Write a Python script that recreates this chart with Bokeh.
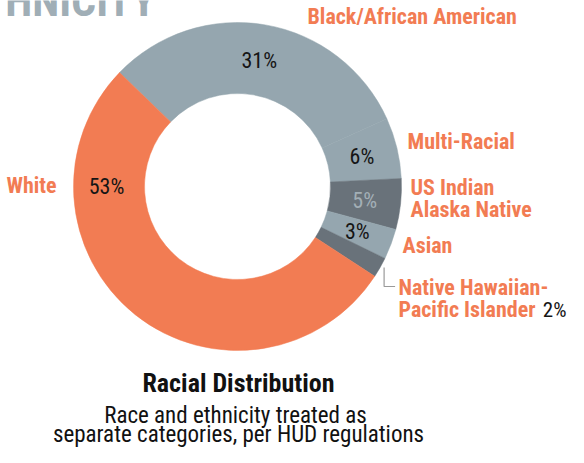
import math
from bokeh.plotting import figure
from bokeh.models import ColumnDataSource, Range1d
from bokeh.core.properties import value
from bokeh.embed import file_html
from bokeh.resources import INLINE

# ---------------- data ----------------
categories = ["Black/African American", "Multi-Racial", "US Indian\nAlaska Native",
              "Asian", "Native Hawaiian-\nPacific Islander", "White"]
percents = [31, 6, 5, 3, 2, 53]
slice_colors = ["#95A6AF", "#95A6AF", "#69727A", "#95A6AF", "#69727A", "#F27C53"]
pct_text_colors = ["#151515", "#151515", "#A3AFB6", "#151515", "#151515", "#151515"]
title_text = "ETHNICITY"
chart_title = "Racial Distribution"
subtitle_lines = ["Race and ethnicity treated as", "separate categories, per HUD regulations"]

# ---------------- layout ----------------
FW, FH = 568, 447
H = 463
FONT = "'Liberation Sans Narrow', 'Arial Narrow', 'Roboto Condensed', Roboto, sans-serif"
ORANGE = "#F27C53"

def Y(sy):  # picture y -> data y
    return H - sy

CX, CY = 237, Y(186)
R_OUT, R_IN = 164, 93
START_DEG = 136.0  # boundary between White and Black (slices run clockwise)

p = figure(width=FW, height=FH, x_range=Range1d(0, FW), y_range=Range1d(H - FH, H),
           output_backend="svg", toolbar_location=None, min_border=0)
p.axis.visible = False
p.grid.visible = False
p.outline_line_color = None
p.background_fill_color = "white"
p.border_fill_color = "white"

# wedges
starts, ends, mids = [], [], []
a = START_DEG
for v in percents:
    span = v / sum(percents) * 360.0
    starts.append(math.radians(a - span))
    ends.append(math.radians(a))
    mids.append(a - span / 2)
    a -= span

src = ColumnDataSource(dict(start=starts, end=ends, color=slice_colors,
                            cat=categories, pct=percents))
p.annular_wedge(x=CX, y=CY, inner_radius=R_IN, outer_radius=R_OUT,
                start_angle="start", end_angle="end", fill_color="color",
                line_color="color", line_width=0.5, source=src)

# percent labels inside ring
px, py, pt, pc = [], [], [], []
for i, v in enumerate(percents):
    cat = categories[i]
    if cat.startswith("Native Hawaiian"):
        continue
    ang = 180.0 if cat == "White" else mids[i]
    rr = 131 if cat == "White" else 128
    px.append(CX + rr * math.cos(math.radians(ang)))
    py.append(CY + rr * math.sin(math.radians(ang)))
    pt.append(f"{v}%")
    pc.append(pct_text_colors[i])
p.text(x=px, y=py, text=pt, text_color=pc, text_font=value(FONT),
       text_font_size="22px", text_align="center", text_baseline="middle")

# category labels outside (picture positions: left x, middle y of first line)
label_pos = {
    "Black/African American": (307, 16),
    "Multi-Racial": (407, 141),
    "US Indian\nAlaska Native": (410, 187),
    "Asian": (402, 245),
    "Native Hawaiian-\nPacific Islander": (398, 287),
    "White": (6, 185),
}
lx, ly, lt = [], [], []
for cat in categories:
    x0, m0 = label_pos[cat]
    for k, line in enumerate(cat.split("\n")):
        lx.append(x0)
        ly.append(Y(m0 + k * 22))
        lt.append(line)
p.text(x=lx, y=ly, text=lt, text_color=ORANGE, text_font=value(FONT),
       text_font_style="bold", text_font_size="22px", text_align="left",
       text_baseline="middle")

# Native Hawaiian small slice: leader line + outside percent
nh = [i for i, c in enumerate(categories) if c.startswith("Native Hawaiian")][0]
ma = math.radians(mids[nh])
sx0 = CX + R_OUT * math.cos(ma) + 4
sy0 = CY + R_OUT * math.sin(ma)
p.line(x=[sx0, sx0, sx0 + 11], y=[sy0, Y(286), Y(286)], line_color="#9A9A9A", line_width=1.2)
p.text(x=[566], y=[Y(309)], text=[f"{percents[nh]}%"], text_color="#151515",
       text_font=value(FONT), text_font_size="21px", text_align="right",
       text_baseline="middle")

# big section title (cut off at top, as in the source page)
p.text(x=[155], y=[Y(0)], text=[title_text], text_color="#A0AEB6",
       text_font=value(FONT), text_font_style="bold", text_font_size="44px",
       text_align="right", text_baseline="middle")

# chart title and subtitle
p.text(x=[238], y=[Y(382)], text=[chart_title], text_color="#111111",
       text_font=value(FONT), text_font_style="bold", text_font_size="26px",
       text_align="center", text_baseline="middle")
p.text(x=[235, 238], y=[Y(415), Y(434)], text=subtitle_lines, text_color="#111111",
       text_font=value(FONT), text_font_size="23px",
       text_align="center", text_baseline="middle")

open("out.html", "w").write(file_html(p, INLINE))
